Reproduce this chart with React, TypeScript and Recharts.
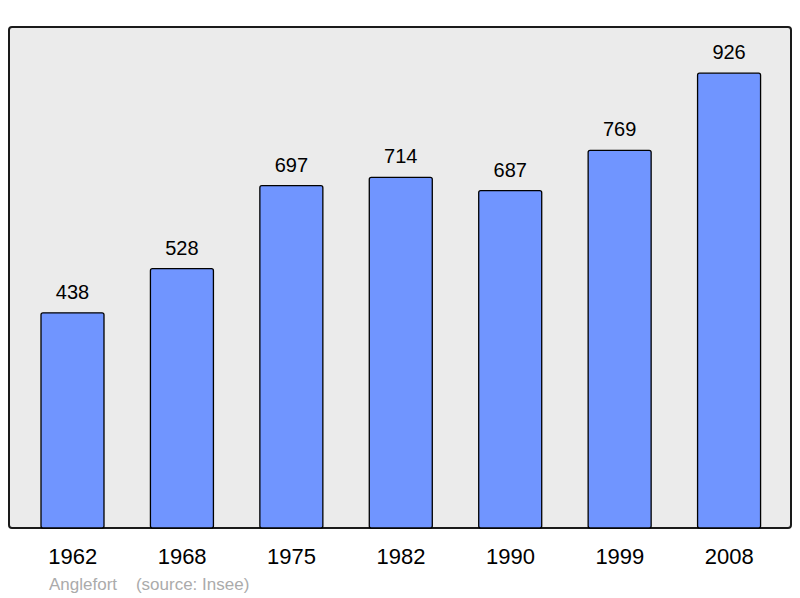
import { BarChart, Bar, XAxis, YAxis, LabelList } from 'recharts';

// population by census year
const years = ['1962', '1968', '1975', '1982', '1990', '1999', '2008'];
const population = [438, 528, 697, 714, 687, 769, 926];

const data = years.map((year, i) => ({ year, population: population[i] }));

const font = '"Liberation Sans", Arial, sans-serif';

export default function App() {
  return (
    <div style={{ position: 'absolute', left: 0, top: 0, width: 800, height: 598, background: '#fff', fontFamily: font }}>
      {/* plot frame */}
      <div
        style={{
          position: 'absolute',
          left: 8,
          top: 26,
          width: 780,
          height: 499,
          background: '#ebebeb',
          border: '2px solid #1a1a1a',
          borderRadius: 4,
        }}
      />
      <div style={{ position: 'absolute', left: 0, top: 0 }}>
        <BarChart width={800} height={598} data={data} margin={{ top: 27, right: 9, bottom: 40, left: 9 }}>
          <XAxis
            dataKey="year"
            height={30}
            axisLine={false}
            tickLine={false}
            tickMargin={14}
            padding={{ left: 9, right: 7 }}
            tick={{ fontSize: 22, fill: '#000', fontFamily: font }}
          />
          <YAxis hide domain={[0, 1020]} />
          <Bar
            dataKey="population"
            barSize={63}
            fill="#7095ff"
            stroke="#000"
            strokeWidth={1.3}
            radius={2}
            isAnimationActive={false}
          >
            <LabelList dataKey="population" position="top" offset={14} style={{ fontSize: 20, fill: '#000', fontFamily: font }} />
          </Bar>
        </BarChart>
      </div>
      <div style={{ position: 'absolute', left: 49, top: 575, fontSize: 17, color: '#ababab', whiteSpace: 'pre' }}>
        {'Anglefort    (source: Insee)'}
      </div>
    </div>
  );
}
